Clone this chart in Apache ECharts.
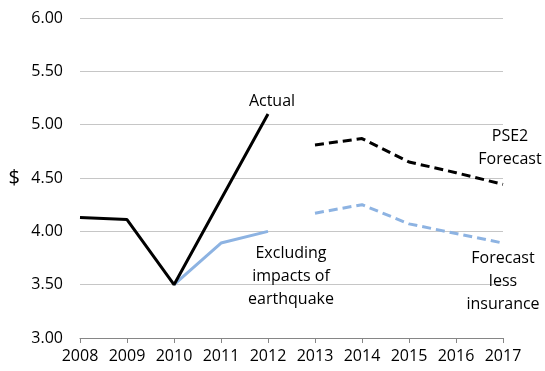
<!DOCTYPE html>
<html>
<head>
<meta charset="utf-8">
<script src="https://cdn.jsdelivr.net/npm/echarts@6/dist/echarts.min.js"></script>
<style>
  html, body { margin: 0; padding: 0; background: #fff; }
  #chart { width: 545px; height: 371px; }
</style>
</head>
<body>
<div id="chart"></div>
<script>
// data
const years = ["2008", "2009", "2010", "2011", "2012", "2013", "2014", "2015", "2016", "2017"];
const actual = [4.13, 4.11, 3.50, 4.30, 5.10, null, null, null, null, null];
const excluding = [null, null, 3.50, 3.89, 4.00, null, null, null, null, null];
const pse2Forecast = [null, null, null, null, null, 4.81, 4.87, 4.65, 4.55, 4.44];
const lessInsurance = [null, null, null, null, null, 4.17, 4.25, 4.07, 3.98, 3.89];

const font = "'Open Sans', 'Liberation Sans', sans-serif";
const blue = "#8db3e2";

// a text note pinned to one data point
function note(text, idx, values, offset) {
  return {
    silent: true,
    symbol: "circle",
    symbolSize: 1,
    itemStyle: { color: "rgba(0,0,0,0)" },
    data: [{
      coord: [years[idx], values[idx]],
      label: {
        show: true,
        position: "inside",
        formatter: text,
        color: "#000",
        fontFamily: font,
        fontSize: 16,
        lineHeight: 23,
        align: "center",
        verticalAlign: "middle",
        offset: offset
      }
    }]
  };
}

const chart = echarts.init(document.getElementById("chart"));
chart.setOption({
  animation: false,
  grid: { left: 80, right: 42, top: 18, bottom: 33 },
  xAxis: {
    type: "category",
    data: years,
    boundaryGap: false,
    axisLine: { lineStyle: { color: "#868686", width: 1 } },
    axisTick: { show: true, interval: 0, length: 5, lineStyle: { color: "#868686" } },
    axisLabel: { interval: 0, hideOverlap: false, color: "#000", fontFamily: font, fontSize: 16, margin: 10 },
    splitLine: { show: false }
  },
  yAxis: {
    type: "value",
    min: 3,
    max: 6,
    interval: 0.5,
    name: "$",
    nameLocation: "middle",
    nameRotate: 0,
    nameGap: 60,
    nameTextStyle: { color: "#000", fontFamily: font, fontSize: 20 },
    axisLine: { show: false },
    axisTick: { show: false },
    axisLabel: {
      color: "#000",
      fontFamily: font,
      fontSize: 16,
      margin: 17,
      formatter: v => v.toFixed(2)
    },
    splitLine: { lineStyle: { color: "#c6c6c6", width: 1 } }
  },
  series: [
    {
      name: "Actual",
      type: "line",
      data: actual,
      symbol: "none",
      lineStyle: { color: "#000", width: 3 },
      markPoint: note("Actual", 4, actual, [4, -13])
    },
    {
      name: "Excluding",
      type: "line",
      data: excluding,
      symbol: "none",
      z: 1,
      lineStyle: { color: blue, width: 3 },
      markPoint: note("Excluding\nimpacts of\nearthquake", 4, excluding, [23, 45])
    },
    {
      name: "PSE2 Forecast",
      type: "line",
      data: pse2Forecast,
      symbol: "none",
      lineStyle: { color: "#000", width: 3, type: [9, 5] },
      markPoint: note("PSE2\nForecast", 9, pse2Forecast, [7, -36])
    },
    {
      name: "Forecast less insurance",
      type: "line",
      data: lessInsurance,
      symbol: "none",
      lineStyle: { color: blue, width: 3, type: [9, 5] },
      markPoint: note("Forecast\nless\ninsurance", 9, lessInsurance, [0, 38])
    }
  ]
});
</script>
</body>
</html>
